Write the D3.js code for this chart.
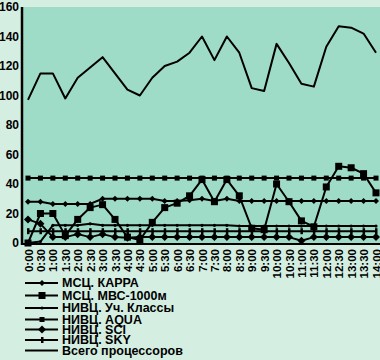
<!DOCTYPE html>
<html><head><meta charset="utf-8">
<script src="https://cdn.jsdelivr.net/npm/d3@7/dist/d3.min.js"></script>
<style>
html,body{margin:0;padding:0;background:#d4efe1;}
svg{display:block;}
text{font-family:"Liberation Sans Narrow","Liberation Sans",sans-serif;font-weight:bold;fill:#000;}
</style></head>
<body><svg id="c" width="380" height="360"></svg>
<script>
const times = ["0:00","0:30","1:00","1:30","2:00","2:30","3:00","3:30","4:00","4:30","5:00","5:30","6:00","6:30","7:00","7:30","8:00","8:30","9:00","9:30","10:00","10:30","11:00","11:30","12:00","12:30","13:00","13:30","14:00"];
const yTicks = [0,20,40,60,80,100,120,140,160];
const seriesNames = ["МСЦ. КАРРА","МСЦ. МВС-1000м","НИВЦ. Уч. Классы","НИВЦ. AQUA","НИВЦ. SCI","НИВЦ. SKY","Всего процессоров"];
const kappa = [28,28,26.5,26.5,26.5,26.5,30,30,30,30,30,28.5,28.5,29,30,28.5,30,28.5,28.5,28.5,28.5,28.5,28.5,28.5,28.5,28.5,28.5,28.5,28.5];
const mvs = [0,20,20,5,16,24,26,16,4,2,14,24,27,32,43,28,43,32,10,9,40,28,15,11,38,52,51,47,34];
const uch = [0,1,12,12,12,13,12,12,12,12,12,12,12,12,12,12,12,11.5,11.5,11.5,11.5,11.5,11.5,11.5,11.5,11.5,11.5,11.5,11.5];
const aqua = [44,44,44,44,44,44,44,44,44,44,44,44,44,44,44,44,44,44,44,44,44,44,44,44,44,44,44,44,44];
const sci = [16,13,4,4,6,4,6,4,3.5,4,4,4,4,4,4,4,4,4,4,4,4,4,1.5,4,4,4,4,4,4];
const sky = [8,8,8,8,8,8,8,8,8,8,8,8,8,8,8,8,8,8,8,8,8,8,8,8,8,8,8,8,8];
const total = [97,115,115,98,112,119,126,115,104,100,112,120,123,129,140,124,140,129,105,103,135,122,108,106,133,147,146,142,129];

const series = [
  {name:seriesNames[0], values:kappa, marker:"sdiamond"},
  {name:seriesNames[1], values:mvs, marker:"bsquare"},
  {name:seriesNames[2], values:uch, marker:"dot"},
  {name:seriesNames[3], values:aqua, marker:"ssquare"},
  {name:seriesNames[4], values:sci, marker:"bdiamond"},
  {name:seriesNames[5], values:sky, marker:"tick"},
  {name:seriesNames[6], values:total, marker:"none"}
];

const svg = d3.select("#c");
const pL = 22, pR = 380, pT = 7, pB = 245;
const x = d3.scalePoint().domain(times).range([28, 376]);
const y = d3.scaleLinear().domain([0,160]).range([243, 7]);

svg.append("rect").attr("x",pL).attr("y",pT).attr("width",pR-pL).attr("height",pB-pT).attr("fill","#9fdcc7");

const ya = svg.append("g").attr("transform",`translate(${pL},0)`)
  .call(d3.axisLeft(y).tickValues(yTicks).tickSize(0).tickPadding(3));
ya.select(".domain").remove();
ya.selectAll("text").style("font-size","12px").style("font-family","'Liberation Sans Narrow','Liberation Sans',sans-serif").style("font-weight","bold").attr("fill","#000");

const xa = svg.append("g").attr("transform",`translate(0,${pB})`)
  .call(d3.axisBottom(x).tickSize(0).tickPadding(0));
xa.select(".domain").remove();
xa.selectAll("text").style("font-size","11.5px").style("font-family","'Liberation Sans Narrow','Liberation Sans',sans-serif").style("font-weight","bold").attr("fill","#000")
  .attr("text-anchor","end").attr("dy","0.35em").attr("dx","0")
  .attr("transform","translate(0,4) rotate(-90)").attr("x",0).attr("y",0);

function drawMarker(g, type, cx, cy){
  if(type==="bsquare") g.append("rect").attr("x",cx-3.5).attr("y",cy-3.5).attr("width",7).attr("height",7).attr("fill","#000");
  else if(type==="ssquare") g.append("rect").attr("x",cx-2.5).attr("y",cy-2.5).attr("width",5).attr("height",5).attr("fill","#000");
  else if(type==="sdiamond") g.append("path").attr("d",`M${cx},${cy-3}L${cx+3},${cy}L${cx},${cy+3}L${cx-3},${cy}Z`).attr("fill","#000");
  else if(type==="bdiamond") g.append("path").attr("d",`M${cx},${cy-4}L${cx+4},${cy}L${cx},${cy+4}L${cx-4},${cy}Z`).attr("fill","#000");
  else if(type==="tick") g.append("rect").attr("x",cx-1).attr("y",cy-3).attr("width",2.5).attr("height",6).attr("fill","#000");
  else if(type==="dot") g.append("circle").attr("cx",cx).attr("cy",cy).attr("r",1.6).attr("fill","#000");
}

const line = d3.line().x((d,i)=>x(times[i])).y(d=>y(d));
series.forEach(s=>{
  const g = svg.append("g");
  g.append("path").datum(s.values).attr("d",line).attr("fill","none").attr("stroke","#000").attr("stroke-width",2).attr("stroke-linejoin","round");
  s.values.forEach((v,i)=>drawMarker(g, s.marker, x(times[i]), y(v)));
});

svg.append("line").attr("x1",pL).attr("x2",pL).attr("y1",pT).attr("y2",pB).attr("stroke","#000").attr("stroke-width",2.5);
svg.append("line").attr("x1",pL).attr("x2",pR).attr("y1",pB-1).attr("y2",pB-1).attr("stroke","#000").attr("stroke-width",2);

const legY = [283,295.5,308,319.5,329.5,340,350.5];
series.forEach((s,i)=>{
  const g = svg.append("g");
  g.append("line").attr("x1",25).attr("x2",58).attr("y1",legY[i]).attr("y2",legY[i]).attr("stroke","#000").attr("stroke-width",2);
  drawMarker(g, s.marker, 42, legY[i]);
  g.append("text").attr("x",62).attr("y",legY[i]).attr("dy","0.35em").style("font-size","12.5px").text(s.name);
});
</script></body></html>
